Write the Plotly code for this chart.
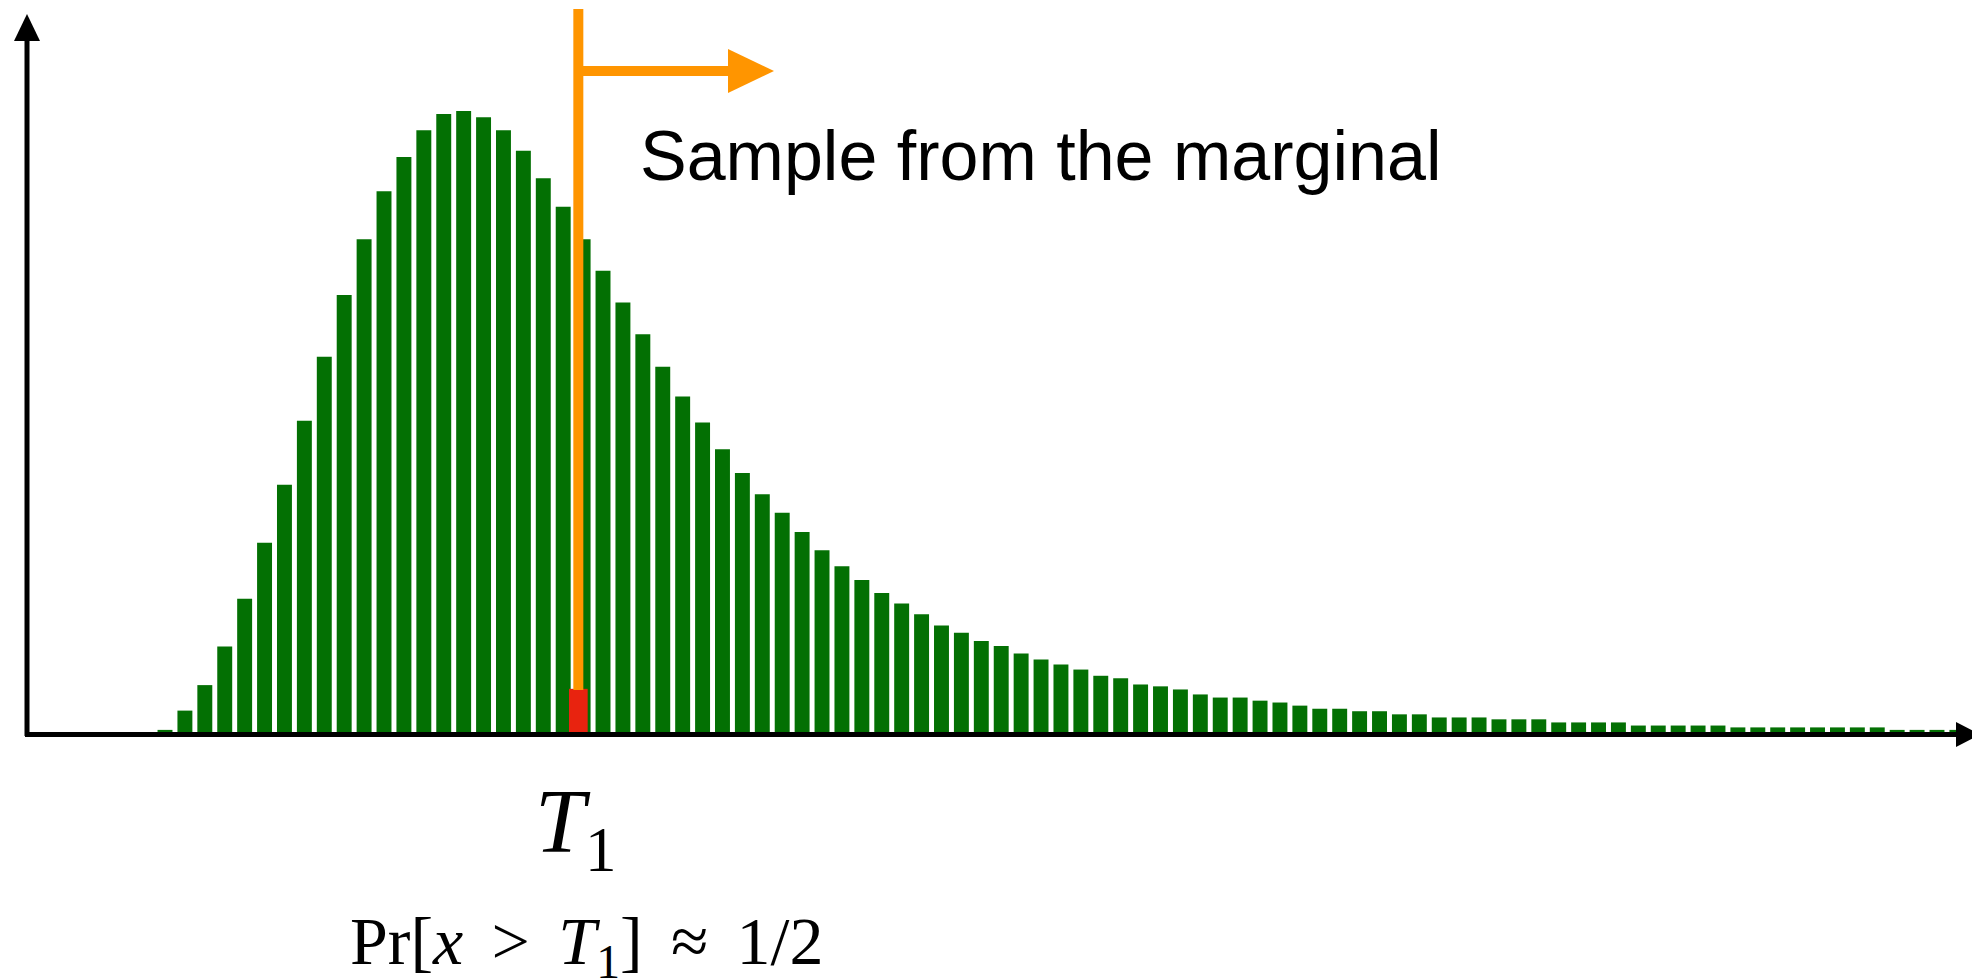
import plotly.graph_objects as go

# histogram of the marginal (relative heights, peak = 1000)
bins = list(range(1, 92))
counts = [5, 36, 77, 139, 216, 306, 399, 502, 605, 704,
          794, 871, 926, 969, 995, 1000, 990, 969, 936, 892,
          846, 794, 743, 692, 641, 589, 541, 499, 456, 418,
          384, 354, 323, 294, 268, 246, 225, 208, 191, 173,
          161, 148, 140, 128, 118, 110, 102, 92, 88, 78,
          75, 70, 62, 57, 57, 52, 49, 44, 39, 39,
          35, 35, 30, 30, 25, 25, 25, 22, 22, 22,
          17, 17, 17, 17, 12, 12, 12, 12, 12, 9,
          9, 9, 9, 9, 9, 9, 9, 5, 5, 5, 5]

# threshold sample T1 and its (small) sampled mass
t1_x = [21.76]
t1_height = [71]

sample_text = "Sample from the marginal"
t1_label = "<i>T</i><sub>1</sub>"
prob_label = "Pr[<i>x</i>\u2006 &gt; \u2006<i>T</i><sub>1</sub>]\u2006 ≈ \u20061/2"

PAGE_W, PAGE_H = 1980, 980
BODY = 8           # default body margin of the html page
W, H = PAGE_W - BODY, PAGE_H - BODY
PITCH = 19.91      # px per bin
FIRST = 165        # px centre of first bin (page coords)
BASE = 733         # px of y = 0 (page coords)
PEAK = 622         # px height of 1000 units

GREEN = "#037003"
ORANGE = "#FF9500"
RED = "#E8230F"


def dx(p):
    return 1 + (p - FIRST) / PITCH


def dy(p):
    return (BASE - p) * 1000 / PEAK


fig = go.Figure()

fig.add_trace(go.Bar(
    x=bins,
    y=counts,
    marker=dict(color=GREEN, line=dict(width=0)),
    hoverinfo="skip",
))

fig.add_trace(go.Bar(
    x=t1_x,
    y=t1_height,
    width=0.94,
    marker=dict(color=RED, line=dict(width=0)),
    hoverinfo="skip",
))


def tri(p1, p2, p3):
    pts = [p1, p2, p3]
    return "M " + " L ".join(f"{dx(a)},{dy(b)}" for a, b in pts) + " Z"


shapes = [
    # y axis
    dict(type="line", x0=dx(27), x1=dx(27), y0=dy(736), y1=dy(40),
         line=dict(color="black", width=5)),
    dict(type="path", path=tri((27, 14), (14, 41), (40, 41)),
         fillcolor="black", line=dict(width=0)),
    # x axis
    dict(type="line", x0=dx(25), x1=dx(1958), y0=dy(734.5), y1=dy(734.5),
         line=dict(color="black", width=5)),
    dict(type="path", path=tri((1980, 734.5), (1956, 722), (1956, 747)),
         fillcolor="black", line=dict(width=0)),
    # threshold line and arrow
    dict(type="line", x0=t1_x[0], x1=t1_x[0], y0=dy(690), y1=dy(9),
         line=dict(color=ORANGE, width=10)),
    dict(type="line", x0=dx(578), x1=dx(732), y0=dy(71), y1=dy(71),
         line=dict(color=ORANGE, width=10)),
    dict(type="path", path=tri((774, 71), (728, 49), (728, 93)),
         fillcolor=ORANGE, line=dict(width=0)),
]

annotations = [
    dict(x=dx(638), y=dy(156), text=sample_text, showarrow=False,
         xanchor="left", yanchor="middle",
         font=dict(family="Liberation Sans, Arial", size=70, color="black")),
    dict(x=dx(576), y=dy(828), text=t1_label, showarrow=False,
         xanchor="center", yanchor="middle",
         font=dict(family="Liberation Serif, Times New Roman", size=90, color="black")),
    dict(x=dx(586), y=dy(945), text=prob_label, showarrow=False,
         xanchor="center", yanchor="middle",
         font=dict(family="Liberation Serif, Times New Roman", size=68, color="black")),
]

fig.update_layout(
    width=W,
    height=H,
    margin=dict(l=0, r=0, t=0, b=0),
    paper_bgcolor="white",
    plot_bgcolor="white",
    barmode="overlay",
    bargap=0.25,
    showlegend=False,
    xaxis=dict(range=[dx(BODY), dx(PAGE_W)], visible=False, fixedrange=True),
    yaxis=dict(range=[dy(PAGE_H), dy(BODY)], visible=False, fixedrange=True),
    shapes=shapes,
    annotations=annotations,
)

fig.write_html("out.html")
